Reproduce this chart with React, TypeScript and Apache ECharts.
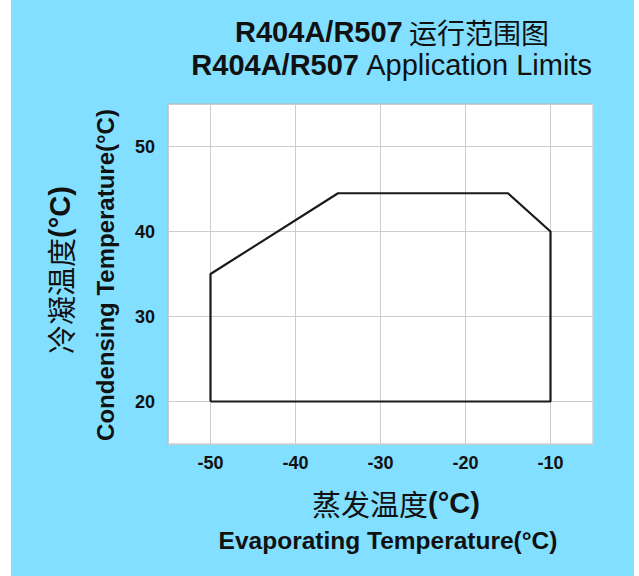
import React, { useEffect, useRef } from "react";
import * as echarts from "echarts";

// Application envelope (evaporating temp, condensing temp)
const boundaryEvap = [-50, -50, -35, -15, -10, -10, -50];
const boundaryCond = [20, 35, 44.5, 44.5, 40, 20, 20];

const xRange = [-55, -5];
const yRange = [15, 55];

const titleLine1 = ["R404A/R507", " 运行范围图"];
const titleLine2 = ["R404A/R507", " Application Limits"];
const xNameCn = "蒸发温度";
const xNameEn = "Evaporating Temperature(°C)";
const yNameCn = "冷凝温度";
const yNameEn = "Condensing Temperature(°C)";
const unit = "(°C)";

const LATIN = "'Liberation Sans', Arial, sans-serif";
const CJK = "'Noto Sans CJK SC', 'Liberation Sans', sans-serif";

export default function App() {
  const ref = useRef<HTMLDivElement>(null);
  useEffect(() => {
    if (!ref.current) return;
    const chart = echarts.init(ref.current, null, { renderer: "svg" });
    const data = boundaryEvap.map((x, i) => [x, boundaryCond[i]]);
    chart.setOption({
      animation: false,
      backgroundColor: "#82dfff",
      grid: {
        left: 157,
        right: 41,
        top: 104,
        bottom: 132,
        show: true,
        backgroundColor: "#ffffff",
        borderColor: "#b8b8b8",
        borderWidth: 1,
      },
      xAxis: {
        type: "value",
        min: xRange[0],
        max: xRange[1],
        splitNumber: 5,
        axisLine: { show: false },
        axisTick: { show: false },
        axisLabel: {
          showMinLabel: false,
          showMaxLabel: false,
          margin: 10,
          fontSize: 18,
          fontWeight: "bold",
          fontFamily: LATIN,
          color: "#111",
          formatter: (v: number) => (v % 10 === 0 ? String(v) : ""),
        },
        splitLine: { show: true, lineStyle: { color: "#cccccc", width: 1 } },
      },
      yAxis: {
        type: "value",
        min: yRange[0],
        max: yRange[1],
        splitNumber: 4,
        axisLine: { show: false },
        axisTick: { show: false },
        axisLabel: {
          showMinLabel: false,
          showMaxLabel: false,
          margin: 13,
          fontSize: 18,
          fontWeight: "bold",
          fontFamily: LATIN,
          color: "#111",
          formatter: (v: number) => (v % 10 === 0 ? String(v) : ""),
        },
        splitLine: { show: true, lineStyle: { color: "#cccccc", width: 1 } },
      },
      series: [
        {
          type: "line",
          data,
          symbol: "none",
          lineStyle: { color: "#1a1a1a", width: 2.2 },
          z: 5,
        },
      ],
      graphic: [
        {
          type: "text",
          x: 381,
          y: 32,
          style: {
            text: `{b|${titleLine1[0]}}{c|${titleLine1[1]}}`,
            textAlign: "center",
            textVerticalAlign: "middle",
            rich: {
              b: { fontSize: 29, lineHeight: 28, fontWeight: "bold", fontFamily: LATIN, fill: "#111" },
              c: { fontSize: 28, lineHeight: 28, fontFamily: CJK, fill: "#111" },
            },
          },
        },
        {
          type: "text",
          x: 381,
          y: 65,
          style: {
            text: `{b|${titleLine2[0]}}{n|${titleLine2[1]}}`,
            textAlign: "center",
            textVerticalAlign: "middle",
            rich: {
              b: { fontSize: 29, lineHeight: 28, fontWeight: "bold", fontFamily: LATIN, fill: "#111" },
              n: { fontSize: 29, lineHeight: 28, fontFamily: LATIN, fill: "#111" },
            },
          },
        },
        {
          type: "text",
          x: 385,
          y: 503,
          style: {
            text: `{c|${xNameCn}}{b|${unit}}`,
            textAlign: "center",
            textVerticalAlign: "middle",
            rich: {
              c: { fontSize: 29, fontFamily: CJK, fill: "#111" },
              b: { fontSize: 29, fontWeight: "bold", fontFamily: LATIN, fill: "#111" },
            },
          },
        },
        {
          type: "text",
          x: 377,
          y: 540,
          style: {
            text: xNameEn,
            textAlign: "center",
            textVerticalAlign: "middle",
            fontSize: 24.5,
            fontWeight: "bold",
            fontFamily: LATIN,
            fill: "#111",
          },
        },
        {
          type: "text",
          x: 49,
          y: 270,
          rotation: Math.PI / 2,
          style: {
            text: `{c|${yNameCn}}{b|${unit}}`,
            textAlign: "center",
            textVerticalAlign: "middle",
            rich: {
              c: { fontSize: 29, fontFamily: CJK, fill: "#111" },
              b: { fontSize: 29, fontWeight: "bold", fontFamily: LATIN, fill: "#111" },
            },
          },
        },
        {
          type: "text",
          x: 94,
          y: 275,
          rotation: Math.PI / 2,
          style: {
            text: yNameEn,
            textAlign: "center",
            textVerticalAlign: "middle",
            fontSize: 24,
            fontWeight: "bold",
            fontFamily: LATIN,
            fill: "#111",
          },
        },
      ],
    });
    return () => chart.dispose();
  }, []);
  return (
    <div
      ref={ref}
      style={{ position: "absolute", left: 11, top: 0, width: 623, height: 576 }}
    />
  );
}
